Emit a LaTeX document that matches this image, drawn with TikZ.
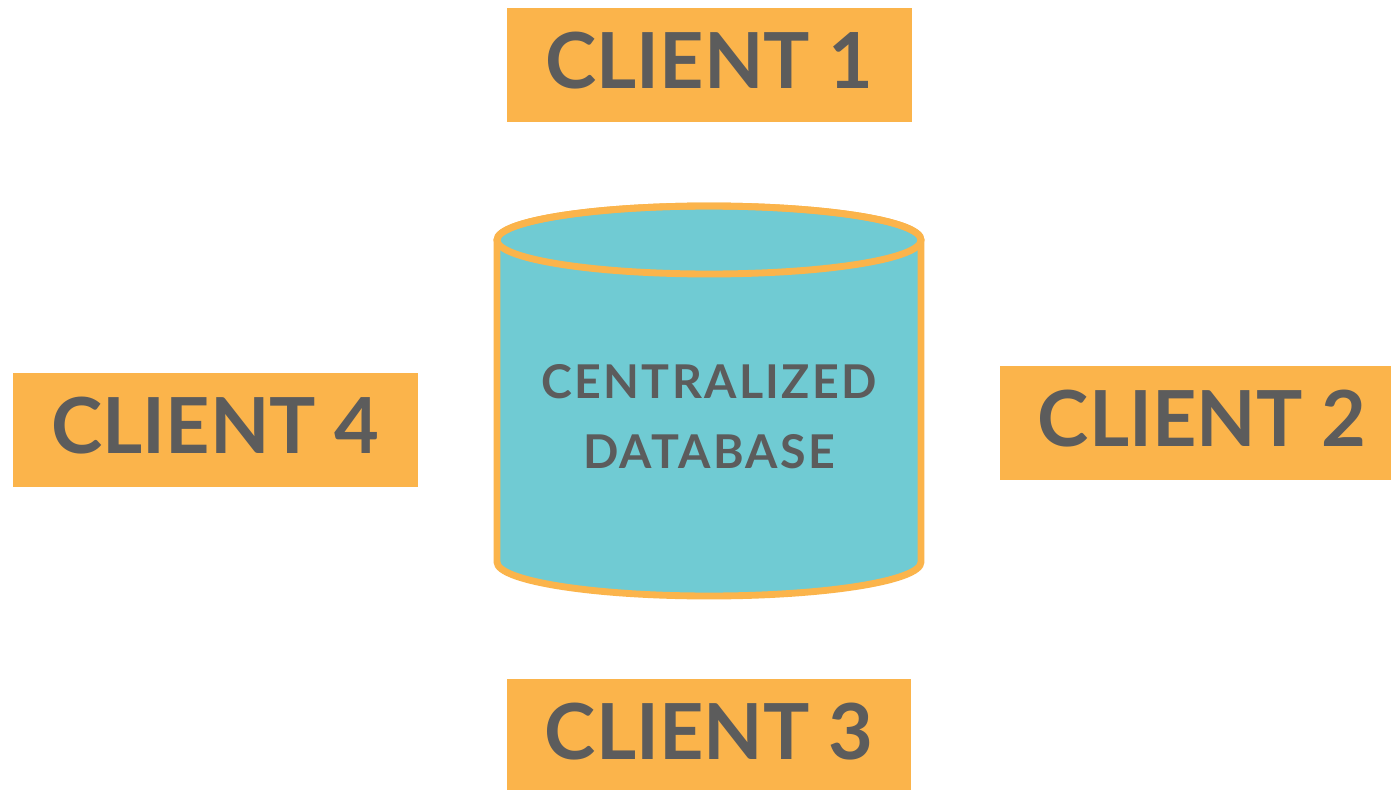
\documentclass[tikz,border=0pt]{standalone}
\usepackage{fontspec}
\setmainfont{Lato}
\definecolor{boxorange}{HTML}{FBB44B}
\definecolor{dbteal}{HTML}{70CBD3}
\definecolor{textgray}{HTML}{5C5C5C}
\tikzset{
  client/.style={fill=boxorange, minimum width=8.1cm, minimum height=2.28cm,
    inner sep=0pt, text=textgray, font=\fontsize{44}{44}\selectfont\bfseries,
    text height=31.5pt, text depth=5pt},
  dblabel/.style={text=textgray, align=center, inner sep=0pt,
    font=\fontsize{26.5}{40}\selectfont\bfseries\addfontfeature{LetterSpace=5}},
  dbline/.style={draw=boxorange, line width=3.9pt}
}
\begin{document}
\begin{tikzpicture}[x=0.02cm,y=0.02cm]
  \useasboundingbox (0,0) rectangle (1391,-790);
  \fill[white] (0,0) rectangle (1391,-790);

  \node[client] (c1) at (709.5,-65) {CLIENT 1};
  \node[client] (c2) at (1202,-423) {CLIENT 2};
  \node[client] (c3) at (709,-736) {CLIENT 3};
  \node[client] (c4) at (215.5,-430) {CLIENT 4};

  % database
  \draw[dbline, fill=dbteal]
    (497,-240) -- (497,-562) arc[start angle=180, end angle=360, x radius=212, y radius=34]
    -- (921,-240) arc[start angle=0, end angle=180, x radius=212, y radius=34] -- cycle;
  \draw[dbline] (709,-240) ellipse[x radius=212, y radius=34];

  \node[dblabel] (db) at (709,-417) {CENTRALIZED\\DATABASE};
\end{tikzpicture}
\end{document}
